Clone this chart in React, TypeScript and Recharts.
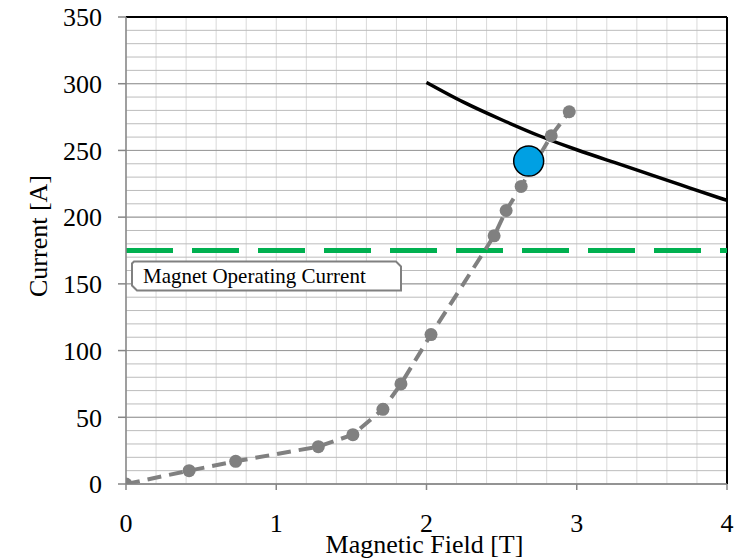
import {
  ComposedChart,
  Line,
  Scatter,
  XAxis,
  YAxis,
  CartesianGrid,
  ReferenceLine,
  Label,
} from "recharts";

// measured magnet excitation curve (field vs current)
const magnetField = [0, 0.42, 0.73, 1.28, 1.51, 1.71, 1.83, 2.03, 2.45, 2.53, 2.63, 2.83, 2.95];
const magnetCurrent = [0, 10, 17, 28, 37, 56, 75, 112, 186, 205, 223, 261, 279];

// conductor critical current line
const criticalField = [2.0, 2.25, 2.5, 2.75, 3.0, 3.25, 3.5, 3.75, 4.0];
const criticalCurrent = [301, 286, 273, 261, 250.5, 241, 231.5, 222, 212.5];

// operating point
const operatingField = [2.68];
const operatingCurrent = [242];

const operatingLevel = 175;
const operatingLabel = "Magnet Operating Current";

const fieldTicks = [0, 1, 2, 3, 4];
const currentTicks = [0, 50, 100, 150, 200, 250, 300, 350];
const fieldGrid = [0, 0.2, 0.4, 0.6, 0.8, 1, 1.2, 1.4, 1.6, 1.8, 2, 2.2, 2.4, 2.6, 2.8, 3, 3.2, 3.4, 3.6, 3.8, 4];
const currentGrid = [
  0, 10, 20, 30, 40, 50, 60, 70, 80, 90, 100, 110, 120, 130, 140, 150, 160, 170,
  180, 190, 200, 210, 220, 230, 240, 250, 260, 270, 280, 290, 300, 310, 320, 330, 340, 350,
];

const toPoints = (xs: number[], ys: number[]) => xs.map((x, i) => ({ x, y: ys[i] }));

const excitation = toPoints(magnetField, magnetCurrent);
const critical = toPoints(criticalField, criticalCurrent);
const operating = toPoints(operatingField, operatingCurrent);

const FONT = "'Times New Roman', 'Liberation Serif', 'DejaVu Serif', serif";

const OperatingBox = ({ viewBox }: any) => {
  if (!viewBox) return null;
  const x0 = viewBox.x + 6;
  const y0 = viewBox.y + 11;
  const w = 269;
  const h = 29;
  const c = 5;
  const d = `M ${x0 + 2} ${y0} L ${x0 + w - c} ${y0} L ${x0 + w} ${y0 + c} L ${x0 + w} ${y0 + h} L ${x0 + c} ${y0 + h} L ${x0} ${y0 + h - c} L ${x0} ${y0 + 2} Z`;
  return (
    <g>
      <path d={d} fill="#fff" stroke="#808080" strokeWidth={2} />
      <text x={x0 + 11} y={y0 + 21} style={{ fontFamily: FONT }} fontSize={21} fill="#000">
        {operatingLabel}
      </text>
    </g>
  );
};

const XTitle = ({ viewBox }: any) => (
  <text x={viewBox.x + viewBox.width / 2 - 2} y={545} textAnchor="middle" style={{ fontFamily: FONT }} fontSize={26} fill="#000">
    Magnetic Field [T]
  </text>
);

const YTitle = () => (
  <text x={30} y={228} transform="rotate(-90 30 228)" textAnchor="middle" dominantBaseline="central" style={{ fontFamily: FONT }} fontSize={26} fill="#000">
    Current [A]
  </text>
);

const BluePoint = (props: any) => (
  <circle cx={props.cx} cy={props.cy} r={15} fill="#00a0e3" stroke="#000" strokeWidth={1.5} />
);

export default function App() {
  const tickStyle = { fill: "#000", fontSize: 26, style: { fontFamily: FONT } };
  return (
    <div style={{ width: 734, height: 552, fontFamily: FONT }}>
      <ComposedChart width={734} height={552} margin={{ top: 9, right: 15, bottom: 0, left: 0 }} style={{ fontFamily: FONT }}>
        <XAxis xAxisId="minor" type="number" dataKey="x" domain={[0, 4]} ticks={fieldGrid} interval={0} allowDataOverflow hide />
        <YAxis yAxisId="minor" type="number" domain={[0, 350]} ticks={currentGrid} interval={0} allowDataOverflow hide />
        <CartesianGrid xAxisId="minor" yAxisId="minor" stroke="#d9d9d9" horizontal={false} />
        <CartesianGrid xAxisId="minor" yAxisId="minor" stroke="#bcbcbc" vertical={false} />
        <CartesianGrid stroke="#9a9a9a" vertical={false} />

        <XAxis
          type="number"
          dataKey="x"
          domain={[0, 4]}
          ticks={fieldTicks}
          interval={0}
          allowDataOverflow
          height={76}
          tick={tickStyle}
          tickSize={6}
          tickMargin={24}
          stroke="#868686"
          strokeWidth={1.5}
        >
          <Label content={<XTitle />} />
        </XAxis>
        <YAxis
          type="number"
          domain={[0, 350]}
          ticks={currentTicks}
          interval={0}
          allowDataOverflow
          width={118}
          tick={tickStyle}
          tickSize={8}
          tickMargin={16}
          stroke="#868686"
          strokeWidth={1.5}
        >
          <Label content={<YTitle />} />
        </YAxis>

        <ReferenceLine y={350} stroke="#000" strokeWidth={2} />
        <ReferenceLine x={4} stroke="#000" strokeWidth={2} />

        <ReferenceLine
          y={operatingLevel}
          stroke="#00b050"
          strokeWidth={5}
          strokeDasharray="47 19"
          label={<OperatingBox />}
        />

        <Line
          data={critical}
          dataKey="y"
          type="natural"
          stroke="#000"
          strokeWidth={3.5}
          dot={false}
          isAnimationActive={false}
        />
        <Line
          data={excitation}
          dataKey="y"
          type="linear"
          stroke="#808080"
          strokeWidth={4}
          strokeDasharray="14 8"
          dot={{ r: 6.5, fill: "#808080", stroke: "none" }}
          isAnimationActive={false}
        />
        <Scatter data={operating} dataKey="y" shape={<BluePoint />} isAnimationActive={false} />
      </ComposedChart>
    </div>
  );
}
